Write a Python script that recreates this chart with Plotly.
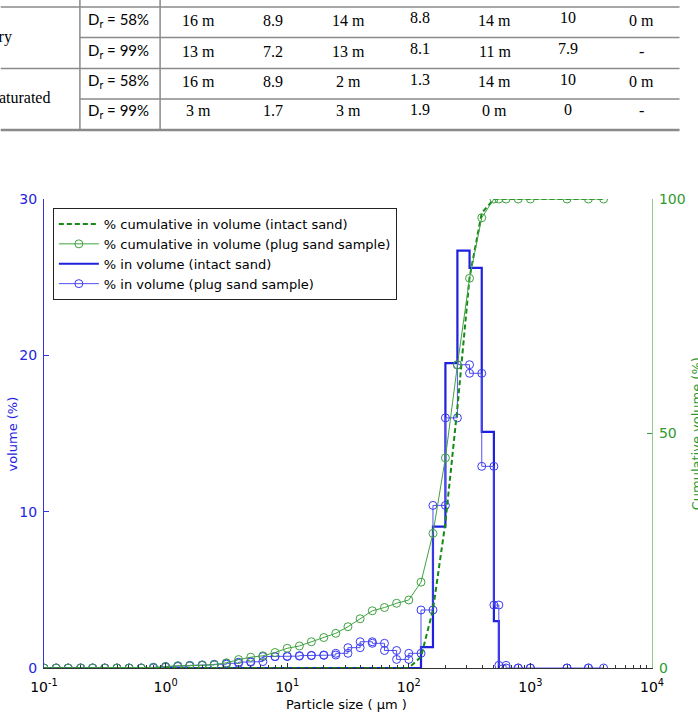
import plotly.graph_objects as go

# ---------------- Data ----------------
# particle size classes (µm) shared by the plug-sample measurements
sizes = [0.1, 0.126, 0.158, 0.2, 0.251, 0.316, 0.398, 0.501, 0.631, 0.794,
         1.0, 1.26, 1.58, 2.0, 2.51, 3.16, 3.98, 5.01, 6.31, 7.94,
         10, 12.6, 15.8, 20, 25.1, 31.6, 39.8, 50.1, 63.1, 79.4,
         100, 126, 158, 200, 251, 316, 398, 501, 550, 631, 794, 1000, 2000, 3000, 4000]

# % cumulative in volume (plug sand sample)
cum_plug = [0, 0, 0, 0, 0, 0, 0, 0, 0, 0.1,
            0.3, 0.5, 0.5, 0.6, 0.7, 1.1, 1.8, 2.3, 2.6, 3.3,
            4.2, 4.7, 5.6, 6.5, 7.4, 8.8, 10.5, 12.2, 12.9, 13.8,
            14.5, 18.3, 28.7, 44.8, 64.6, 83.1, 96.0, 100, 100, 100, 100, 100, 100, 100, 100]

# % in volume (plug sand sample), one value per class [sizes[i], sizes[i+1]]
vol_plug = [0, 0, 0, 0, 0, 0, 0, 0, 0,
            0.05,
            0.1, 0.13, 0.17, 0.2, 0.24, 0.3, 0.37, 0.41, 0.73, 0.73,
            0.76, 0.79, 0.81, 0.83, 0.94, 1.30, 1.68, 1.58, 1.12, 0.55,
            0.94, 3.71, 10.4, 16.0, 19.4, 18.85, 12.9, 4.03, 0.17, 0, 0, 0, 0, 0]

# % in volume (intact sand): class edges and values
intact_edges = [0.1, 126, 158, 200, 251, 316, 398, 501, 550]
vol_intact = [0, 1.34, 9.04, 19.5, 26.7, 25.6, 15.1, 3.0]

# % cumulative in volume (intact sand)
cum_intact_x = [0.1, 100, 126, 158, 200, 251, 316, 398, 501, 550, 4000]
cum_intact_y = [0, 0, 2.4, 12.4, 31, 55.5, 83.3, 97, 100, 100, 100]

# table (top of page)
table_rows = [
    ["Dry", "58%", ["16 m", "8.9", "14 m", "8.8", "14 m", "10", "0 m"]],
    ["Dry", "99%", ["13 m", "7.2", "13 m", "8.1", "11 m", "7.9", "-"]],
    ["Saturated", "58%", ["16 m", "8.9", "2 m", "1.3", "14 m", "10", "0 m"]],
    ["Saturated", "99%", ["3 m", "1.7", "3 m", "1.9", "0 m", "0", "-"]],
]

xtick_vals = [0.1, 1, 10, 100, 1000, 10000]
xtick_text = ["10<sup>-1</sup>", "10<sup>0</sup>", "10<sup>1</sup>",
              "10<sup>2</sup>", "10<sup>3</sup>", "10<sup>4</sup>"]

# ---------------- Geometry helpers ----------------
W, H = 698, 712
L, R, T, B = 44, 662, 199, 668


def px(x):
    return (x - L) / (R - L)


def py(y):
    return (B - y) / (B - T)


BLUE = "#1f1fe0"
BLUE_THIN = "#5050f0"
GREEN_D = "#138a13"
GREEN = "#3fa23f"
FONT = "DejaVu Sans"
FS = 13

# step representation of plug volume (markers at both ends of each class)
plug_x, plug_y = [], []
for i, v in enumerate(vol_plug):
    plug_x += [sizes[i], sizes[i + 1]]
    plug_y += [v, v]

fig = go.Figure()

fig.add_trace(go.Scatter(
    x=intact_edges, y=vol_intact + [0], mode="lines", line_shape="hv",
    line=dict(color=BLUE, width=2.2), name="% in volume (intact sand)",
    legendrank=3, yaxis="y"))

fig.add_trace(go.Scatter(
    x=plug_x, y=plug_y, mode="lines+markers",
    line=dict(color=BLUE_THIN, width=1),
    marker=dict(symbol="circle-open", size=8, color="#3a3af5", line=dict(width=1)),
    name="% in volume (plug sand sample)", legendrank=4, yaxis="y"))

fig.add_trace(go.Scatter(
    x=cum_intact_x, y=cum_intact_y, mode="lines",
    line=dict(color=GREEN_D, width=2, dash="5px,3px"),
    name="% cumulative in volume (intact sand)", legendrank=1, yaxis="y2"))

fig.add_trace(go.Scatter(
    x=sizes, y=cum_plug, mode="lines+markers",
    line=dict(color=GREEN, width=1),
    marker=dict(symbol="circle-open", size=8, color=GREEN, line=dict(width=1)),
    name="% cumulative in volume (plug sand sample)", legendrank=2, yaxis="y2"))

minor_vals = [k * 10 ** e for e in range(-1, 4) for k in range(2, 10)]

fig.update_layout(
    width=W, height=H,
    margin=dict(l=L, r=W - R, t=T, b=H - B),
    plot_bgcolor="white", paper_bgcolor="white",
    font=dict(family=FONT, size=FS, color="black"),
    xaxis=dict(type="log", range=[-1, 4], showgrid=False, zeroline=False,
               showline=True, linecolor="#333", linewidth=1,
               ticks="inside", ticklen=5, tickcolor="#333",
               tickvals=xtick_vals, ticktext=xtick_text,
               ticklabelstandoff=6,
               tickfont=dict(size=FS + 1, color="black"),
               minor=dict(ticks="inside", ticklen=3, tickcolor="#333",
                          tickvals=minor_vals, showgrid=False)),
    yaxis=dict(range=[0, 30], showgrid=False, zeroline=False,
               showline=True, linecolor="#3636d8", linewidth=1,
               ticks="inside", ticklen=5, tickcolor="#3636d8",
               tickvals=[0, 10, 20, 30], ticklabelstandoff=3,
               tickfont=dict(size=FS + 1, color="#2424e0")),
    yaxis2=dict(range=[0, 100], overlaying="y", side="right",
                showgrid=False, zeroline=False,
                showline=True, linecolor="#8ccc8c", linewidth=1.2,
                ticks="inside", ticklen=5, tickcolor="#3a9a3a",
                tickvals=[0, 50, 100], ticklabelstandoff=3,
                tickfont=dict(size=FS + 1, color="#2f9a2f")),
    legend=dict(x=px(53), y=py(208), xanchor="left", yanchor="top",
                bordercolor="#222", borderwidth=1, bgcolor="white",
                font=dict(size=FS, color="black", family=FONT), traceorder="normal",
                itemwidth=40, tracegroupgap=0),
)

ann = []


def add_text(text, x, y, size, color="black", family=FONT, angle=0, xanchor="center"):
    ann.append(dict(text=text, x=px(x), y=py(y), xref="paper", yref="paper",
                    xanchor=xanchor, yanchor="middle", textangle=angle,
                    showarrow=False, font=dict(size=size, color=color, family=family)))


add_text("volume (%)", 11, 434, FS, "#2424e0", angle=-90)
add_text("Particle size ( µm )", 351, 704, FS)
add_text("Cumulative volume (%)", 707, 434, FS, "#2f9a2f", angle=-90)

# ---------------- Table ----------------
shapes = []
LC = "#8a8a8a"


def hline(y, x0, x1, w=1.5):
    shapes.append(dict(type="line", xref="paper", yref="paper",
                       x0=px(x0), x1=px(x1), y0=py(y), y1=py(y),
                       line=dict(color=LC, width=w)))


def vline(x, y0, y1, w=1.5):
    shapes.append(dict(type="line", xref="paper", yref="paper",
                       x0=px(x), x1=px(x), y0=py(y0), y1=py(y1),
                       line=dict(color=LC, width=w)))


hline(7, 0, 690)
hline(37.5, 80.5, 690)
hline(68.5, 0, 690)
hline(99, 80.5, 690)
hline(130, 0, 690, 2.5)
vline(80.5, 0, 130)
vline(162, 0, 130)

row_y = [20, 51, 81, 111]
col_x = [201, 277, 353, 426, 502, 577, 651]
col_dy = [0, 0, 0, -2, 0, -2, 0]
for r, (grp, dr, vals) in enumerate(table_rows):
    add_text("D<sub>r</sub> = " + dr, 120, row_y[r], 15, family="Lato")
    for c, v in enumerate(vals):
        add_text(v, col_x[c], row_y[r] + col_dy[c], 16, family="Liberation Serif")
add_text("Dry", 13.5, 37, 16, family="Liberation Serif", xanchor="right")
add_text("Saturated", 52, 97, 16, family="Liberation Serif", xanchor="right")

fig.update_layout(annotations=ann, shapes=shapes)

fig.write_html("out.html")
